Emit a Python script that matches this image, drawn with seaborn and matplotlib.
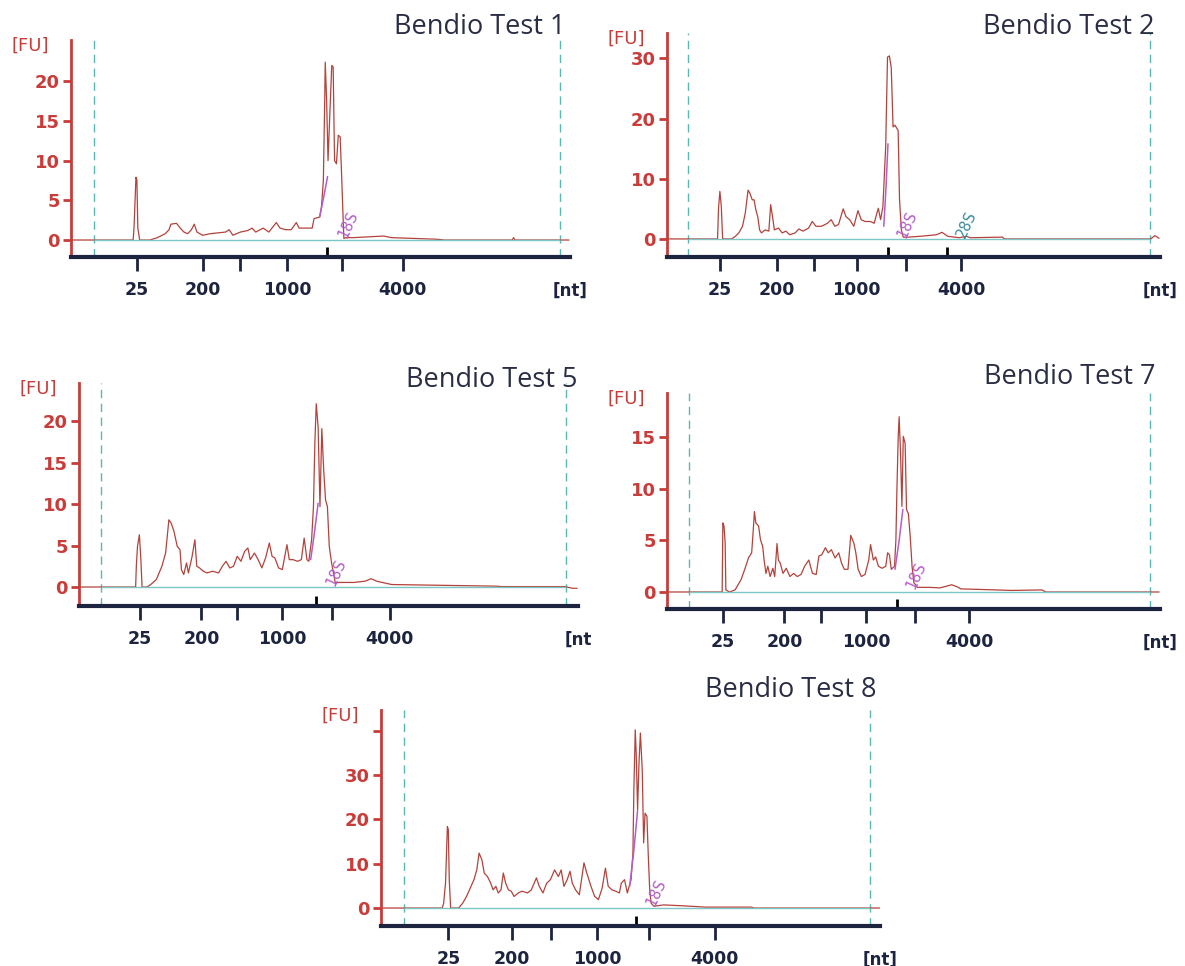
import numpy as np
import matplotlib
matplotlib.use("Agg")
import matplotlib.pyplot as plt
import seaborn as sns

# ---------------- data (positions on the run axis: left marker = 0, right marker = 100) -------------
titles = ["Bendio Test 1", "Bendio Test 2", "Bendio Test 5", "Bendio Test 7", "Bendio Test 8"]
size_labels = ["25", "200", "", "1000", "", "4000"]

# x-tick positions per panel (25, 200, -, 1000, -, 4000)
ticks_t1 = [9.3, 23.4, 31.5, 41.6, 53.4, 66.3]
ticks_t2 = [6.9, 19.3, 27.3, 36.5, 47.1, 59.1]
ticks_t5 = [8.3, 21.6, 29.3, 38.9, 49.6, 62.1]
ticks_t7 = [7.4, 20.7, 28.6, 38.4, 49.0, 60.8]
ticks_t8 = [9.5, 23.1, 31.6, 41.5, 52.5, 66.6]

# ribosomal marker ticks (18S / 28S)
rrna_t1 = [50.0]
rrna_t2 = [43.2, 56.1]
rrna_t5 = [46.3]
rrna_t7 = [45.1]
rrna_t8 = [49.8]

# y ticks
yt_t1 = [0, 5, 10, 15, 20]
yt_t2 = [0, 10, 20, 30]
yt_t5 = [0, 5, 10, 15, 20]
yt_t7 = [0, 5, 10, 15]
yt_t8 = [0, 10, 20, 30, 40]
ylab_t8 = ["0", "10", "20", "30", ""]

# traces [FU]
x_t1 = [-4.5, 8.5, 8.7, 9.1, 9.3, 9.5, 9.9, 12.1, 13.7, 15.4, 16.2, 16.6, 17.8, 18.6, 19.4, 20.2, 21.0,
        21.6, 22.2, 23.4, 25.1, 26.7, 28.3, 29.1, 29.9, 31.5, 33.1, 34.0, 34.8, 36.4, 37.6, 39.2, 40.0,
        41.2, 42.4, 43.5, 44.1, 45.3, 46.9, 47.3, 48.5, 48.9, 49.3, 49.6, 49.7, 50.0, 50.3, 50.8, 51.1,
        51.4, 51.7, 52.1, 52.5, 52.9, 53.2, 53.5, 53.7, 54.2, 55.8, 62.2, 63.9, 68.7, 73.6, 75.2, 89.8,
        90.1, 90.4, 102.0]
y_t1 = [0, 0, 1.7, 7.9, 7.6, 1.5, 0, 0, 0.3, 0.8, 1.3, 2.0, 2.1, 1.5, 1.0, 0.8, 1.3,
        2.0, 1.0, 0.6, 0.8, 0.9, 1.0, 1.3, 0.6, 1.0, 1.2, 1.5, 1.0, 1.5, 1.0, 2.2, 1.5,
        1.3, 1.3, 2.2, 1.5, 1.5, 1.5, 2.7, 2.9, 4.2, 7.5, 18.0, 22.4, 17.6, 10.0, 17.6, 22.0,
        21.8, 10.0, 9.6, 13.2, 13.0, 8.4, 3.3, 0.2, 0.3, 0.3, 0.5, 0.3, 0.2, 0.1, 0, 0,
        0.3, 0, 0]

x_t2 = [-4.5, 6.4, 6.6, 6.9, 7.2, 7.5, 9.4, 10.2, 11.0, 11.8, 12.4, 13.0, 13.4, 13.9, 14.3, 14.7,
        15.1, 15.5, 15.9, 16.7, 17.5, 17.9, 18.3, 18.7, 19.6, 20.4, 21.2, 22.0, 23.2, 24.0, 24.9,
        26.1, 26.9, 27.7, 28.9, 30.2, 31.0, 31.8, 32.6, 33.6, 34.2, 35.0, 35.9, 36.8, 37.5, 38.3,
        39.5, 40.3, 41.2, 41.7, 42.2, 42.8, 43.2, 43.6, 44.0, 44.4, 44.8, 45.5, 45.8, 46.2, 46.6,
        47.7, 50.5, 53.8, 55.0, 56.2, 58.7, 60.3, 61.1, 68.1, 68.5, 100.2, 101.1, 102.0]
y_t2 = [0, 0, 5.0, 7.9, 5.5, 0, 0, 0.4, 1.0, 2.1, 4.3, 8.1, 7.6, 6.5, 6.5, 4.8,
        3.7, 1.5, 1.0, 1.5, 1.3, 5.7, 3.7, 1.5, 1.8, 1.0, 1.3, 0.7, 1.0, 1.65, 1.3,
        1.8, 2.9, 2.1, 2.1, 2.6, 3.2, 2.1, 2.4, 5.0, 3.7, 3.2, 2.1, 4.7, 3.2, 2.9,
        2.9, 2.6, 5.1, 3.2, 5.4, 15.3, 30.2, 30.4, 28.5, 18.6, 18.9, 18.0, 6.5, 1.5, 0.3,
        0.3, 0.45, 0.7, 1.1, 0.45, 0.2, 0.45, 0.2, 0.3, 0, 0, 0.55, 0.1]

x_t5 = [-4.5, 7.45, 7.6, 7.85, 8.26, 8.58, 8.83, 9.9, 10.7, 11.9, 13.1, 13.9, 14.6, 15.1, 15.7,
        16.4, 17.0, 17.3, 17.8, 18.4, 18.8, 19.6, 20.2, 20.6, 21.2, 22.0, 22.8, 24.0, 25.3, 26.1,
        26.9, 27.7, 28.5, 29.3, 30.1, 30.9, 31.6, 32.1, 33.0, 33.8, 34.6, 35.4, 36.2, 36.8, 37.4,
        38.2, 39.0, 40.0, 40.5, 41.3, 42.3, 43.1, 43.7, 44.3, 44.7, 45.3, 45.7, 46.0, 46.3, 46.7,
        47.1, 47.5, 47.9, 48.3, 48.7, 49.1, 49.6, 50.0, 50.4, 51.2, 54.4, 56.8, 58.1, 59.3, 60.9,
        62.5, 85.2, 86.0, 99.8, 101.4, 102.4]
y_t5 = [0, 0, 2.5, 4.9, 6.3, 3.3, 0, 0, 0.3, 0.9, 2.5, 4.1, 8.1, 7.7, 6.7,
        4.9, 4.5, 2.1, 1.5, 2.9, 1.7, 3.7, 5.7, 2.5, 2.3, 1.9, 1.7, 1.9, 1.7, 2.5,
        3.1, 2.3, 2.5, 3.7, 3.1, 4.3, 4.7, 3.3, 4.1, 3.3, 2.3, 3.5, 5.3, 3.7, 3.5,
        2.3, 2.1, 5.1, 3.3, 3.3, 3.1, 3.3, 5.9, 3.3, 3.1, 5.7, 9.7, 17.3, 22.1, 19.3,
        9.7, 19.1, 14.1, 10.5, 9.7, 4.9, 2.9, 1.7, 0.5, 0.55, 0.55, 0.7, 1.0, 0.7, 0.5,
        0.3, 0.1, 0.05, 0.05, -0.15, -0.15]

x_t7 = [-4.5, 7.2, 7.35, 7.6, 7.85, 8.0, 8.8, 10.0, 11.3, 12.1, 12.9, 13.6, 13.9, 14.2, 14.5, 15.1,
        15.5, 16.0, 16.3, 16.7, 17.1, 17.6, 18.2, 18.6, 19.1, 19.4, 19.8, 20.4, 21.1, 21.9, 22.7,
        23.5, 24.3, 25.1, 26.0, 26.8, 27.6, 28.2, 28.8, 29.6, 30.2, 30.9, 31.7, 32.5, 33.1, 33.7,
        34.5, 35.1, 35.8, 36.2, 36.7, 37.4, 38.2, 39.0, 39.4, 40.0, 40.5, 41.1, 41.9, 42.7, 43.1,
        43.5, 43.9, 44.6, 44.9, 45.1, 45.4, 45.6, 45.9, 46.2, 46.5, 46.9, 47.2, 47.6, 48.0, 48.4,
        48.8, 49.6, 52.1, 54.5, 57.0, 58.2, 59.0, 66.8, 70.0, 76.6, 77.4, 102.0]
y_t7 = [0, 0, 6.7, 6.4, 4.7, 0.2, 0, 0.2, 1.2, 2.2, 3.3, 3.8, 5.7, 7.8, 6.7, 6.4,
        5.1, 4.4, 3.1, 1.8, 2.5, 1.5, 2.3, 1.5, 4.7, 3.1, 2.8, 1.8, 2.3, 1.5, 1.8,
        1.5, 1.7, 2.5, 3.1, 1.8, 1.7, 3.5, 3.6, 4.3, 3.8, 4.1, 3.3, 3.8, 2.8, 2.2,
        2.2, 5.5, 4.7, 3.8, 2.2, 1.5, 1.7, 3.1, 4.6, 3.1, 3.4, 2.5, 2.3, 2.5, 3.8,
        3.6, 2.2, 2.5, 5.1, 9.6, 15.1, 17.0, 13.5, 8.3, 15.1, 14.4, 8.0, 7.6, 5.4, 2.5,
        0.9, 0.45, 0.45, 0.4, 0.7, 0.5, 0.3, 0.2, 0.15, 0.2, 0, 0]

x_t8 = [-4.5, 8.2, 8.5, 8.9, 9.3, 9.5, 9.7, 10.0, 11.7, 12.6, 13.4, 14.2, 15.0, 15.6, 16.1, 16.7,
        17.2, 17.9, 18.6, 19.1, 19.7, 20.2, 20.8, 21.3, 21.8, 22.4, 23.0, 23.6, 24.5, 25.3, 26.5,
        27.3, 28.4, 29.0, 29.8, 30.6, 31.4, 32.3, 33.1, 33.7, 34.3, 35.0, 35.6, 36.1, 36.8, 37.6,
        38.6, 39.2, 40.1, 40.9, 41.7, 42.5, 43.2, 43.8, 44.6, 45.4, 46.2, 46.6, 47.3, 47.9, 48.7,
        49.1, 49.3, 49.6, 49.8, 50.1, 50.4, 50.7, 51.1, 51.4, 51.7, 52.1, 52.4, 52.7, 53.0, 53.6,
        55.7, 59.8, 64.7, 74.5, 75.0, 102.0]
y_t8 = [0, 0, 1.1, 5.6, 18.4, 17.7, 6.4, 0, 0, 1.1, 2.6, 4.5, 6.4, 8.6, 12.4, 10.9,
        7.9, 7.1, 5.6, 4.1, 4.9, 3.4, 4.1, 7.9, 5.6, 4.1, 3.8, 2.6, 3.4, 3.8, 3.4,
        4.1, 6.8, 4.9, 3.4, 5.6, 6.4, 8.6, 7.1, 8.6, 4.9, 6.4, 8.3, 5.6, 4.1, 3.0,
        10.2, 7.9, 4.9, 2.6, 1.9, 4.5, 9.0, 4.9, 4.1, 3.8, 3.4, 5.6, 6.4, 3.4, 6.4,
        12.4, 26.7, 40.2, 35.0, 22.2, 32.7, 39.5, 31.2, 14.7, 21.4, 20.7, 11.7, 4.1, 1.1, 0.4,
        0.7, 0.5, 0.2, 0.2, 0, 0]

# highlighted (18S) fragment rise
fx_t1, fy_t1 = [48.5, 49.4, 50.2], [2.9, 5.5, 8.0]
fx_t2, fy_t2 = [42.4, 42.9, 43.3], [2.1, 9.0, 15.8]
fx_t5, fy_t5 = [45.1, 45.9, 46.7], [3.3, 6.5, 10.1]
fx_t7, fy_t7 = [44.7, 45.6, 46.4], [2.2, 5.0, 8.0]
fx_t8, fy_t8 = [48.4, 49.3, 50.1], [4.9, 13.0, 22.0]

# peak annotations (label, x, y)
ann_t1 = [("18S", 54.6, 1.9)]
ann_t2 = [("18S", 47.4, 2.4), ("28S", 60.4, 2.4)]
ann_t5 = [("18S", 50.5, 1.8)]
ann_t7 = [("18S", 49.4, 1.6)]
ann_t8 = [("18S", 54.2, 3.6)]

# ---------------- styling / layout ----------------
sns.set_theme(style="white")
plt.rcParams["font.family"] = ["DejaVu Sans"]

RED = "#c83c3a"
NAVY = "#1d2440"
TRACE = "#b4423b"
MAG = "#b45cc8"
TEAL = "#5bb8b0"
TITLE_C = "#2a2e44"

W, H = 1185, 966
fig = plt.figure(figsize=(W / 100, H / 100), dpi=100)

panels = [
    dict(title=titles[0], x=x_t1, y=y_t1, fx=fx_t1, fy=fy_t1, xt=ticks_t1, mt=rrna_t1, yt=yt_t1, ytl=None,
         ann=ann_t1, box=(71, 570, 40, 257), ylim=(-2.14, 25.2), xlim=(-4.83, 102.2),
         tpos=(565, 27), nt="[nt]"),
    dict(title=titles[1], x=x_t2, y=y_t2, fx=fx_t2, fy=fy_t2, xt=ticks_t2, mt=rrna_t2, yt=yt_t2, ytl=None,
         ann=ann_t2, box=(667, 1160, 33, 257), ylim=(-3.0, 34.2), xlim=(-4.55, 102.2),
         tpos=(1155, 27), nt="[nt]"),
    dict(title=titles[2], x=x_t5, y=y_t5, fx=fx_t5, fy=fy_t5, xt=ticks_t5, mt=rrna_t5, yt=yt_t5, ytl=None,
         ann=ann_t5, box=(79, 578, 383, 606), ylim=(-2.29, 24.6), xlim=(-4.73, 102.6),
         tpos=(578, 380), nt="[nt"),
    dict(title=titles[3], x=x_t7, y=y_t7, fx=fx_t7, fy=fy_t7, xt=ticks_t7, mt=rrna_t7, yt=yt_t7, ytl=None,
         ann=ann_t7, box=(667, 1160, 393, 609), ylim=(-1.65, 19.3), xlim=(-4.77, 102.2),
         tpos=(1155, 377), nt="[nt]"),
    dict(title=titles[4], x=x_t8, y=y_t8, fx=fx_t8, fy=fy_t8, xt=ticks_t8, mt=rrna_t8, yt=yt_t8, ytl=ylab_t8,
         ann=ann_t8, box=(381, 880, 710, 926), ylim=(-4.06, 44.7), xlim=(-4.94, 102.1),
         tpos=(876, 690), nt="[nt]"),
]

for p in panels:
    l, r, t, b = p["box"]
    ax = fig.add_axes([l / W, 1 - b / H, (r - l) / W, (b - t) / H])
    ax.set_facecolor("none")
    ax.set_xlim(*p["xlim"])
    ax.set_ylim(*p["ylim"])

    # run markers
    for xv in (0, 100):
        ax.axvline(xv, color=TEAL, lw=1.0, ls=(0, (6, 4)), zorder=1)

    sns.lineplot(x=np.array(p["x"]), y=np.array(p["y"]), ax=ax, color=TRACE, linewidth=0.9,
                 sort=False, estimator=None, legend=False, zorder=3)
    ax.hlines(0, 0, 100, color="#7cc6c6", lw=1.0, zorder=4)
    sns.lineplot(x=np.array(p["fx"]), y=np.array(p["fy"]), ax=ax, color=MAG, linewidth=1.1,
                 sort=False, estimator=None, legend=False, zorder=5)

    for lab, ax_x, ax_y in p["ann"]:
        col = MAG if lab == "18S" else "#3b8c9c"
        ax.text(ax_x, ax_y, lab, rotation=65, color=col, fontsize=10.5, ha="center", va="center",
                zorder=6)

    # spines
    sns.despine(ax=ax, top=True, right=True)
    ax.spines["left"].set_color(RED)
    ax.spines["left"].set_linewidth(2)
    ax.spines["bottom"].set_color(NAVY)
    ax.spines["bottom"].set_linewidth(3)

    # y ticks
    ax.set_yticks(p["yt"])
    ax.set_yticklabels(p["ytl"] if p["ytl"] else [str(v) for v in p["yt"]],
                       color=RED, fontweight="bold", fontsize=13)
    ax.tick_params(axis="y", which="major", left=True, direction="out", length=6, width=2,
                   color=RED, pad=2)

    # x ticks
    ax.set_xticks(p["xt"])
    ax.set_xticklabels(size_labels, color=NAVY, fontweight="bold", fontsize=12.5)
    ax.tick_params(axis="x", which="major", bottom=True, direction="out", length=10, width=2,
                   color=NAVY, pad=7)
    ax.set_xticks(p["mt"], minor=True)
    ax.tick_params(axis="x", which="minor", bottom=True, direction="in", length=7, width=2,
                   color="black")
    ax.set_xlabel("")
    ax.set_ylabel("")
    ax.grid(False)

    # unit labels
    ax.annotate("[FU]", xy=(0, 1), xycoords="axes fraction", xytext=(-29, -4),
                textcoords="offset points", ha="center", va="center", color=RED, fontsize=13)
    ax.annotate(p["nt"], xy=(1, 0), xycoords="axes fraction", xytext=(0, -24),
                textcoords="offset points", ha="center", va="center", color=NAVY,
                fontsize=12, fontweight="bold")

    fig.text(p["tpos"][0] / W, 1 - p["tpos"][1] / H, p["title"], ha="right", va="center",
             fontsize=19.5, color=TITLE_C, family="Open Sans")

fig.savefig("out.png", dpi=100, facecolor="white")
